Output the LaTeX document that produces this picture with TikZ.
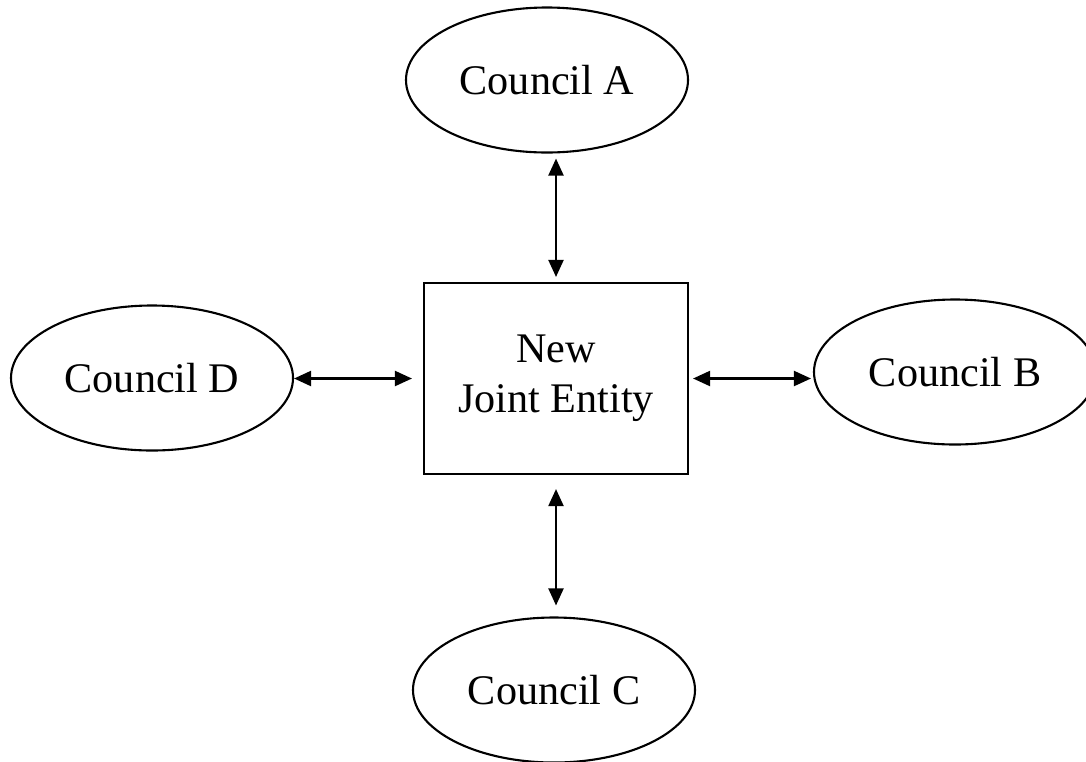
\documentclass[tikz,border=0pt]{standalone}
\usepackage{fontspec}
\setmainfont{Liberation Serif}
\usetikzlibrary{shapes.geometric,arrows.meta}

\begin{document}
\begin{tikzpicture}[line width=0.6pt,
  every node/.style = {draw, align=center, font=\fontsize{12}{14.2}\selectfont},
  council/.style = {ellipse, inner sep=0pt, minimum width=2.82cm, minimum height=1.45cm},
  entity/.style = {rectangle, inner sep=0pt, minimum width=2.64cm, minimum height=1.91cm},
  link/.style = {{Triangle[length=0.17cm,width=0.15cm]}-{Triangle[length=0.17cm,width=0.15cm]}}]
  \useasboundingbox (0,0) rectangle (10.86,7.61);
  \node[entity] (box) at (5.56,3.825) {New\\Joint Entity};
  \node[council] (A) at (5.47,6.81) {Council A};
  \node[council] (B) at (9.55,3.89) {Council B};
  \node[council] (C) at (5.54,0.71) {Council C};
  \node[council] (D) at (1.52,3.83) {Council D};
  \draw[link, shorten <=0.05cm, shorten >=0.05cm] (box.north) -- (box.north |- A.south);
  \draw[link, shorten <=0.04cm, shorten >=0.02cm] (box.east) -- (box.east -| B.west);
  \draw[link, shorten <=0.14cm, shorten >=0.11cm] (box.south) -- (box.south |- C.north);
  \draw[link, shorten <=0.11cm] (box.west) -- (box.west -| D.east);
\end{tikzpicture}
\end{document}
